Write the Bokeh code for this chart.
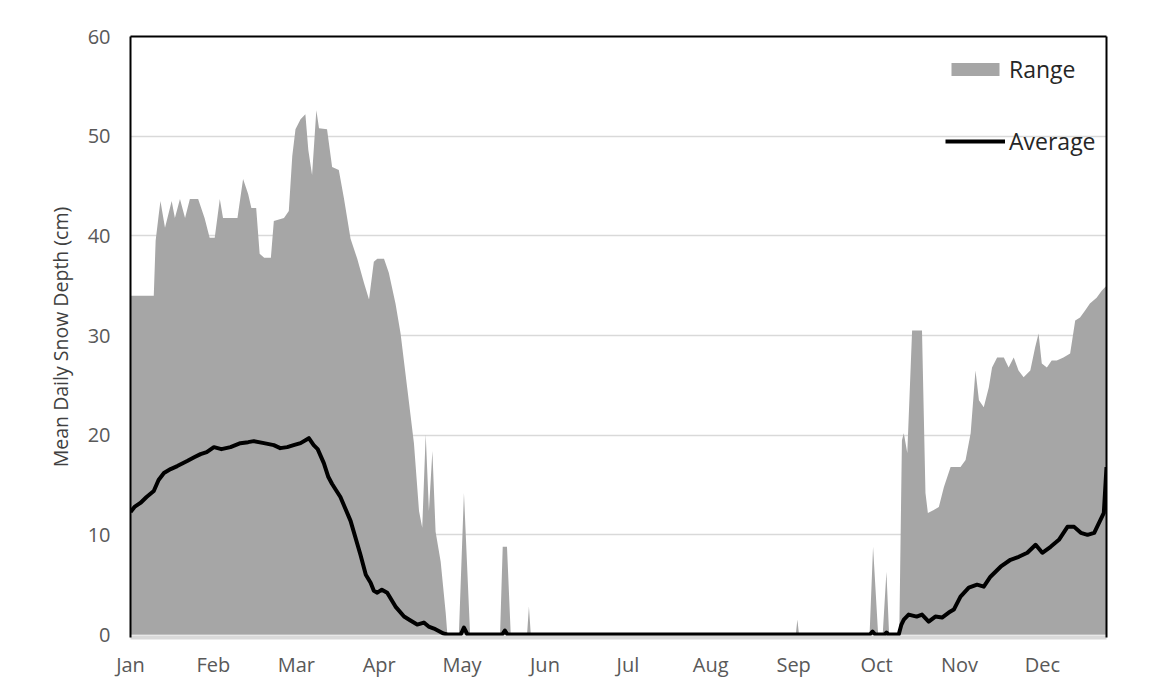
from bokeh.plotting import figure
from bokeh.models import (Range1d, FixedTicker, LinearAxis, Legend, LegendItem)
from bokeh.embed import file_html
from bokeh.resources import INLINE

# ---- data (day of year) ----
month_labels = ["Jan", "Feb", "Mar", "Apr", "May", "Jun",
                "Jul", "Aug", "Sep", "Oct", "Nov", "Dec"]
month_ticks = [0, 31, 62, 93, 124, 155, 186, 217, 248, 279, 310, 341]
y_ticks = [0, 10, 20, 30, 40, 50, 60]

range_day = [0, 8.7, 9.4, 10.5, 11.2, 12.9, 15.4, 16.6, 18.5, 20.4, 22.2, 25.3,
             27.7, 29.6, 31.5, 33.4, 34.6, 40, 42.1, 44, 45.2, 47, 48.3, 50,
             52.5, 53.6, 57.4, 59.2, 60.5, 61.7, 63.6, 65.4, 66.5, 67.9, 69.5,
             70.5, 73.5, 75.4, 77.9, 79.8, 82.3, 84.8, 87.3, 89.2, 91, 92.3,
             94.8, 96.6, 99.1, 101, 103.5, 106, 107.9, 109.1, 110.4, 111.6,
             112.9, 114.1, 116, 117.9, 118.5,
             122.8, 124.7, 127, 138.2, 139.2, 140.8, 142.2, 148.3, 149, 149.7,
             248.8, 249.4, 250, 276.4, 277.7, 279.6, 281.3, 282.7, 283.7,
             287.5, 288.5, 289.2, 290.5, 291.5, 292.3, 296, 297.3, 298.2, 300.4,
             302.3, 304.2, 306.7, 310.4, 312.3, 314.2, 316, 317.3, 319.1, 321,
             322.2, 324.1, 326.6, 328.4, 330.3, 332.1, 334, 336.5, 338.3, 339.6,
             340.8, 342.7, 344.5, 346.4, 348.9, 351.4, 353.3, 355.1, 357, 358.8,
             361.3, 363.2, 365]
range_max = [34, 34, 39.5, 42, 43.5, 40.8, 43.5, 41.8, 43.7, 41.8, 43.7, 43.7,
             41.8, 39.8, 39.8, 43.7, 41.8, 41.8, 45.7, 44.2, 42.8, 42.8, 38.2, 37.8,
             37.8, 41.5, 41.8, 42.5, 48, 50.7, 51.7, 52.2, 48.6, 46.1, 52.6,
             50.8, 50.7, 46.9, 46.6, 43.8, 39.7, 37.7, 35.3, 33.6, 37.4, 37.7,
             37.7, 36.3, 33.2, 30.2, 24.7, 19.2, 12.4, 10.7, 20.1, 12.4,
             18.4, 10.3, 7.3, 2.1, 0,
             0, 14.2, 0, 0, 8.8, 8.8, 0, 0, 2.8, 0,
             0, 1.5, 0, 0, 8.8, 0, 0, 6.3, 0,
             0, 19.5, 20.2, 18.2, 25, 30.5, 30.5, 14.2, 12.2, 12.5,
             12.8, 14.8, 16.8, 16.8, 17.5, 20.2, 26.5, 23.5, 22.8, 24.8,
             26.8, 27.8, 27.8, 26.8, 27.8, 26.5, 25.8, 26.5, 28.8, 30.2,
             27.2, 26.8, 27.5, 27.5, 27.8, 28.2, 31.5, 31.8, 32.5, 33.2,
             33.8, 34.5, 35]
range_min = [0] * len(range_day)

avg_day = [0, 1.5, 3.7, 6, 8.7, 10.5, 12.5, 15, 17.5, 21.2, 24, 26.2, 28.5, 31.2,
           34, 37.4, 41.1, 44, 46.1, 49.9, 53.6, 56, 58.6, 61, 63.6, 66.7, 68.5,
           70, 72.3, 74, 75.4, 78.5, 82.3, 86, 88, 89.8, 91, 92.3, 94, 96, 99.1,
           102.3, 104.7, 107.2, 109.7, 111.5, 113.5, 117, 118.5, 123.5, 124.7,
           126, 139, 140, 141, 276.5, 277.5, 278.5, 282, 282.7, 283.5, 287.3,
           288.3, 289.2, 291, 294, 296, 298.5, 301, 303.5, 306, 307.9, 310.4,
           313.5, 316.6, 319.1, 321.6, 325.4, 329.1, 332.2, 335.4, 338.5, 341,
           344.1, 347.2, 350.4, 352.9, 355.4, 357.9, 360.4, 362.2, 364, 365]
avg_depth = [12.3, 12.8, 13.2, 13.8, 14.4, 15.5, 16.2, 16.6, 16.9, 17.4, 17.8, 18.1,
             18.3, 18.8, 18.6, 18.8, 19.2, 19.3, 19.4, 19.2, 19.0, 18.7, 18.8, 19.0,
             19.2, 19.7, 19.0, 18.6, 17.2, 15.8, 15.1, 13.8, 11.4, 8.0, 6.0, 5.2,
             4.4, 4.2, 4.5, 4.2, 2.8, 1.8, 1.4, 1.0, 1.2, 0.8, 0.6, 0.1, 0, 0, 0.7,
             0, 0, 0.4, 0, 0, 0.3, 0, 0, 0.2, 0, 0,
             1.0, 1.5, 2.0, 1.8, 2.0, 1.3, 1.8, 1.7, 2.2, 2.5, 3.8,
             4.7, 5.0, 4.8, 5.8, 6.8, 7.5, 7.8, 8.2, 9.0, 8.2,
             8.8, 9.5, 10.8, 10.8, 10.2, 10.0, 10.2, 11.2, 12.2, 16.8]

FONT = "Open Sans"
GRAY_TXT = "#595959"

p = figure(width=1133, height=680, output_backend="svg", toolbar_location=None,
           x_range=Range1d(0, 365), y_range=Range1d(-0.3, 60),
           min_border_left=130, min_border_top=36, min_border_right=27,
           min_border_bottom=41, outline_line_color=None,
           background_fill_color="white", border_fill_color="white")

area = p.varea(x=range_day, y1=range_min, y2=range_max, fill_color="#a6a6a6")
line = p.line(x=avg_day, y=avg_depth, line_color="black", line_width=4,
              line_join="round")

# axes
p.xaxis.ticker = FixedTicker(ticks=month_ticks)
p.xaxis.major_label_overrides = {t: m for t, m in zip(month_ticks, month_labels)}
p.yaxis.ticker = FixedTicker(ticks=y_ticks)
for ax in (p.xaxis[0], p.yaxis[0]):
    ax.major_tick_line_color = None
    ax.minor_tick_line_color = None
    ax.major_tick_out = 0
    ax.major_tick_in = 0
    ax.major_label_text_font = FONT
    ax.major_label_text_font_size = "20px"
    ax.major_label_text_color = GRAY_TXT
p.xaxis.major_label_standoff = 13
p.yaxis.major_label_standoff = 20
p.xaxis.axis_line_color = "#d9d9d9"
p.xaxis.axis_line_width = 4
p.yaxis.axis_line_color = "black"
p.yaxis.axis_line_width = 2
p.yaxis.axis_label = "Mean Daily Snow Depth (cm)"
p.yaxis.axis_label_text_font = FONT
p.yaxis.axis_label_text_font_style = "normal"
p.yaxis.axis_label_text_font_size = "19.5px"
p.yaxis.axis_label_text_color = "#404040"
p.yaxis.axis_label_standoff = 11

for loc in ("right", "above"):
    ax = LinearAxis(ticker=FixedTicker(ticks=[]), axis_line_color="black",
                    axis_line_width=2, major_tick_line_color=None,
                    minor_tick_line_color=None, major_label_text_color=None)
    p.add_layout(ax, loc)

p.xgrid.grid_line_color = None
p.ygrid.grid_line_color = "#d9d9d9"
p.ygrid.grid_line_width = 1.5

legend = Legend(items=[LegendItem(label="Range", renderers=[area]),
                       LegendItem(label="Average", renderers=[line])],
                location=(815, 480), padding=0, margin=0, spacing=40,
                glyph_width=60, glyph_height=16, label_height=20,
                label_standoff=4, label_text_font=FONT,
                label_text_font_size="23px", label_text_color="#262626",
                border_line_color=None, background_fill_alpha=0)
p.add_layout(legend, "center")

open("out.html", "w").write(file_html(p, INLINE))
